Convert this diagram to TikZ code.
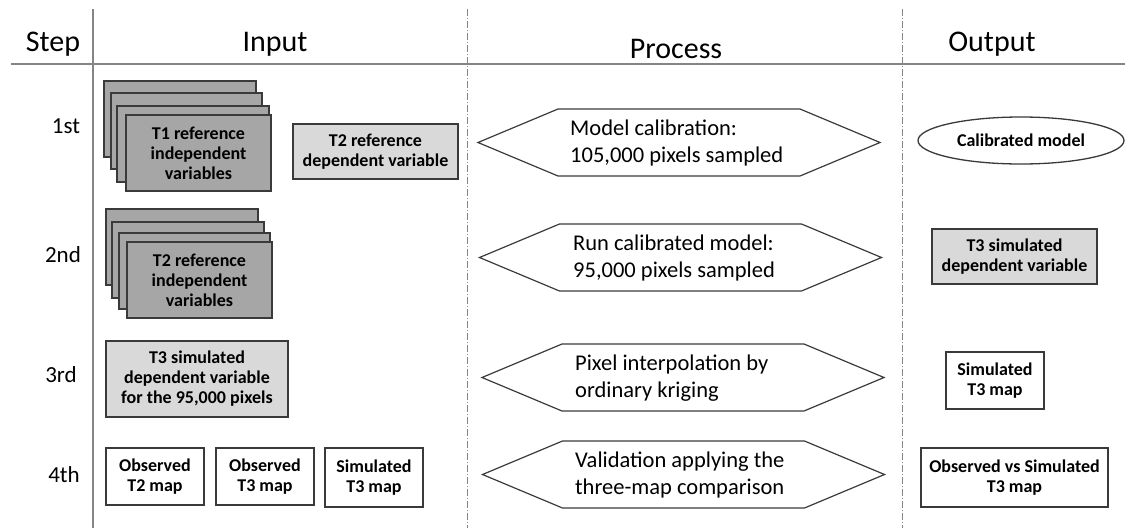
\documentclass[tikz,border=0pt]{standalone}
\usepackage{fontspec}
\setmainfont{Carlito}
\usetikzlibrary{shapes.geometric}
\definecolor{darkfill}{HTML}{A6A6A6}
\definecolor{lightfill}{HTML}{D9D9D9}
\definecolor{rulegray}{HTML}{858585}
\definecolor{edgecol}{HTML}{3A3A3A}
\tikzset{
  boxbase/.style={draw=edgecol, line width=1.3pt, inner sep=2pt, align=center,
    font=\fontsize{18}{20}\selectfont\bfseries},
  stackbox/.style={boxbase, fill=darkfill, minimum height=76pt},
  lightbox/.style={boxbase, fill=lightfill},
  whitebox/.style={boxbase, fill=white},
  outoval/.style={boxbase, ellipse, fill=white, minimum width=206pt, minimum height=47pt},
  hexline/.style={draw=edgecol, line width=1.2pt},
  hextext/.style={anchor=west, align=left, inner sep=0pt, font=\fontsize{22.5}{27}\selectfont},
  hdr/.style={anchor=base, inner sep=0pt, font=\fontsize{30}{36}\selectfont},
  rowlbl/.style={anchor=base, inner sep=0pt, font=\fontsize{23}{28}\selectfont},
  solidrule/.style={draw=rulegray, line width=2pt},
  dashrule/.style={draw=rulegray, line width=0.9pt, dash pattern=on 7pt off 2pt on 1pt off 2pt},
}
\begin{document}
\begin{tikzpicture}[x=1pt,y=-1pt]
\useasboundingbox (0,0) rectangle (1125,528);

% rules
\coordinate (hl) at (11,64);
\coordinate (hr) at (1125,64);
\coordinate (vt) at (93,9);
\coordinate (vb) at (93,528);
\coordinate (d1t) at (467,9);
\coordinate (d1b) at (467,528);
\coordinate (d2t) at (902,9);
\coordinate (d2b) at (902,528);
\draw[solidrule] (hl) -- (hr);
\draw[solidrule] (vt) -- (vb);
\draw[dashrule] (d1t) -- (d1b);
\draw[dashrule] (d2t) -- (d2b);

% headers
\node[hdr] (hstep) at (53,51) {Step};
\node[hdr] (hinput) at (275,51) {Input};
\node[hdr] (hprocess) at (676,58) {Process};
\node[hdr] (houtput) at (992,51) {Output};

% row labels
\node[rowlbl] (r1) at (66,133) {1st};
\node[rowlbl] (r2) at (63,262) {2nd};
\node[rowlbl] (r3) at (61,382) {3rd};
\node[rowlbl] (r4) at (64,482) {4th};

% step 1 inputs
\node[stackbox, minimum width=152pt] (s1a) at (180,119) {};
\node[stackbox, minimum width=151pt] (s1b) at (186.5,131) {};
\node[stackbox, minimum width=152pt] (s1c) at (193,144) {};
\node[stackbox, minimum width=145pt] (s1d) at (198.5,153) {T1 reference\\independent\\variables};
\node[lightbox, minimum width=165pt, minimum height=55pt] (t2ref) at (375.5,151.5) {T2 reference\\dependent variable};

% step 2 inputs
\node[stackbox, minimum width=152pt] (s2a) at (182,247) {};
\node[stackbox, minimum width=152pt] (s2b) at (188,260) {};
\node[stackbox, minimum width=151pt] (s2c) at (194.5,271) {};
\node[stackbox, minimum width=145pt] (s2d) at (199.5,280) {T2 reference\\independent\\variables};

% step 3 input
\node[lightbox, minimum width=182pt, minimum height=76pt] (t3in) at (197,379) {T3 simulated\\dependent variable\\for the 95,000 pixels};

% step 4 inputs
\node[whitebox, minimum width=98pt, minimum height=57pt] (obt2) at (155,476.5) {Observed\\T2 map};
\node[whitebox, minimum width=98pt, minimum height=57pt] (obt3) at (265,476.5) {Observed\\T3 map};
\node[whitebox, minimum width=98pt, minimum height=59pt] (simt3in) at (374,477.5) {Simulated\\T3 map};

% process hexagons
\coordinate (h1) at (680,142.5);
\coordinate (h2) at (681.5,257.5);
\coordinate (h3) at (684,377.5);
\coordinate (h4) at (684.5,474.5);
\foreach \h in {h1,h2,h3,h4}{
  \draw[hexline] (\h) ++(-202,0) -- ++(80,-33.5) -- ++(242,0) -- ++(80,33.5)
    -- ++(-80,33.5) -- ++(-242,0) -- cycle;
}
\node[hextext] (p1) at (570,143) {Model calibration:\\105,000 pixels sampled};
\node[hextext] (p2) at (573,258) {Run calibrated model:\\95,000 pixels sampled};
\node[hextext] (p3) at (575,378) {Pixel interpolation by\\ordinary kriging};
\node[hextext] (p4) at (575,475) {Validation applying the\\three-map comparison};

% outputs
\node[outoval] (calib) at (1021,140.5) {Calibrated model};
\node[lightbox, minimum width=165pt, minimum height=55pt] (t3out) at (1014.5,256.5) {T3 simulated\\dependent variable};
\node[whitebox, minimum width=98pt, minimum height=57pt] (simt3out) at (995,380.5) {Simulated\\T3 map};
\node[whitebox, minimum width=187pt, minimum height=59pt] (ovs) at (1014.5,477.5) {Observed vs Simulated\\T3 map};
\end{tikzpicture}
\end{document}
